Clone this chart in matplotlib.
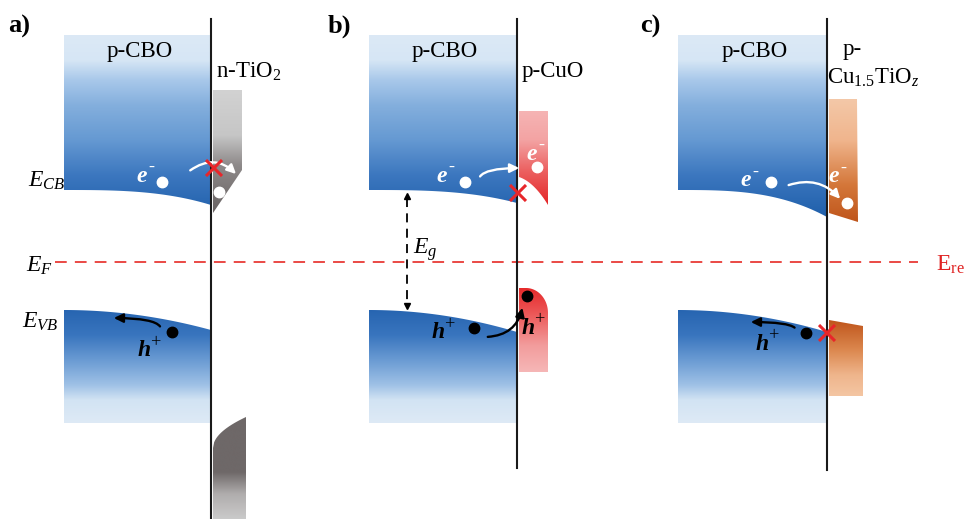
import numpy as np
import matplotlib
matplotlib.use('Agg')
import matplotlib.pyplot as plt
from matplotlib.patches import Polygon, FancyArrowPatch
from matplotlib.colors import to_rgb

plt.rcParams['font.family'] = 'Liberation Serif'
plt.rcParams['mathtext.fontset'] = 'custom'
plt.rcParams['mathtext.rm'] = 'Liberation Serif'
plt.rcParams['mathtext.it'] = 'Liberation Serif:italic'
plt.rcParams['mathtext.bf'] = 'Liberation Serif:bold'

# 三个异质结能带示意 (像素坐标, y 向下)
panel_tags = ['a)', 'b)', 'c)']
partner_names = ['n-TiO$_2$', 'p-CuO', 'Cu$_{1.5}$TiO$_z$']
x_left = [64, 369, 678]          # p-CBO 左边界
x_iface = [211, 517, 827]        # 界面
iface_end = [519, 468, 470]      # 界面线下端
cb_top, cb_edge = 35, 190        # p-CBO 导带
cb_bend = [15, 13, 27]           # 导带在界面处的弯曲
vb_edge, vb_bottom = 310, 423    # p-CBO 价带
vb_bend = [20, 22, 22]
ef_level = 262

blue_cb = [(35, '#dce9f6'), (60, '#d6e6f5'), (80, '#a8c8ea'), (105, '#84afdd'),
           (140, '#6599d2'), (175, '#3c77bf'), (215, '#2161ac')]
blue_vb = [(310, '#2765b1'), (335, '#3975be'), (360, '#6a9bd3'), (385, '#9fc1e6'),
           (400, '#d2e3f3'), (423, '#deeaf6')]


def grad_fill(ax, xs, ys, stops):
    poly = Polygon(np.column_stack([xs, ys]), closed=True, facecolor='none', edgecolor='none')
    ax.add_patch(poly)
    y0, y1 = min(ys), max(ys)
    yy = np.linspace(y0, y1, 300)
    sy = [s[0] for s in stops]
    cols = np.array([to_rgb(s[1]) for s in stops])
    img = np.stack([np.interp(yy, sy, cols[:, k]) for k in range(3)], axis=-1)[:, None, :]
    im = ax.imshow(img, extent=(min(xs), max(xs), y1, y0), aspect='auto',
                   interpolation='bilinear', origin='upper', zorder=1)
    im.set_clip_path(poly)


def charge(ax, x, y, letter, sign, color, size=17):
    ax.text(x, y, letter, color=color, fontsize=size, fontweight='bold',
            fontstyle='italic', ha='center', va='center', zorder=6)
    ax.annotate(sign, xy=(x, y), xytext=(size * 0.27, size * 0.36), textcoords='offset points',
                color=color, fontsize=size * 0.78, ha='left', va='center', zorder=6)


def curved(ax, p0, p1, style, color):
    a = FancyArrowPatch(p0, p1, connectionstyle=style,
                        arrowstyle='-|>,head_length=0.45,head_width=0.22',
                        mutation_scale=12, lw=1.7, color=color, zorder=6)
    ax.add_patch(a)


def cross(ax, x, y, s=8):
    ax.plot([x - s, x + s], [y - s, y + s], color='#e8262a', lw=2.2, zorder=7, solid_capstyle='butt')
    ax.plot([x - s, x + s], [y + s, y - s], color='#e8262a', lw=2.2, zorder=7, solid_capstyle='butt')


fig = plt.figure(figsize=(9.66, 5.19), dpi=100)
ax = fig.add_axes([0, 0, 1, 1])

for i in range(3):
    x0, xi = x_left[i], x_iface[i]
    t = np.linspace(0, 1, 80)
    xs = x0 + (xi - x0) * t
    # 导带
    cb_y = cb_edge + cb_bend[i] * t ** 3
    grad_fill(ax, np.r_[x0, xs, xi], np.r_[cb_top, cb_y, cb_top], blue_cb)
    # 价带
    vb_y = vb_edge + vb_bend[i] * t ** 2
    grad_fill(ax, np.r_[xs, xi, x0], np.r_[vb_y, vb_bottom, vb_bottom], blue_vb)
    ax.plot([xi, xi], [19, iface_end[i]], color='#1a1a1a', lw=1.5, zorder=5)
    ax.text(x0 + (xi - x0) / 2 + 2, 52, 'p-CBO', fontsize=16.5, ha='center', va='center', zorder=6)
    ax.text([8, 328, 640][i], 26, panel_tags[i], fontsize=19, fontweight='bold',
            ha='left', va='center', zorder=6)

# n-TiO2
gray_cb = [(90, '#d2d2d2'), (135, '#c6c6c6'), (165, '#8e8a8a'), (213, '#686262')]
gray_vb = [(417, '#6e6868'), (472, '#6e6868'), (494, '#b0adad'), (519, '#cacaca')]
s = np.linspace(0, 1, 30)
grad_fill(ax, [213, 242, 242, 213], [90, 90, 170, 213], gray_cb)
grad_fill(ax, np.r_[213 + 33 * s, 246, 213], np.r_[448 - 31 * np.sqrt(s), 519, 519], gray_vb)

# p-CuO
red_cb = [(111, '#f6b4b4'), (140, '#f3a3a3'), (170, '#ec6262'), (205, '#e42628')]
red_vb = [(288, '#e62a2b'), (315, '#ec5a5a'), (345, '#f29c9c'), (372, '#f6b7b7')]
q = np.linspace(0, 1, 30)
arc_x = (1 - q) ** 2 * 519 + 2 * (1 - q) * q * 534 + q ** 2 * 548
arc_y = (1 - q) ** 2 * 177 + 2 * (1 - q) * q * 182 + q ** 2 * 205
grad_fill(ax, np.r_[519, 548, arc_x[::-1]], np.r_[111, 111, arc_y[::-1]], red_cb)
ang = np.linspace(np.pi / 2, 0, 30)
grad_fill(ax, np.r_[519, 526 + 22 * np.cos(ang), 548, 519],
          np.r_[288, 313 - 25 * np.sin(ang), 372, 372], red_vb)

# p-Cu1.5TiOz
org_cb = [(99, '#f4c8a8'), (140, '#f0b58d'), (185, '#d4773a'), (222, '#bf551b')]
org_vb = [(320, '#bf551b'), (350, '#dc884f'), (375, '#efb58c'), (396, '#f4c6a3')]
grad_fill(ax, [829, 857, 858, 829], [99, 99, 222, 213], org_cb)
grad_fill(ax, [829, 863, 863, 829], [320, 326, 396, 396], org_vb)

# 费米能级
ax.plot([55, 918], [ef_level, ef_level], color='#e83a36', lw=1.3, dashes=(6.5, 4.5), zorder=4)

# 带隙
ax.plot([407, 407], [198, 303], color='black', lw=1.3, dashes=(5, 3.5), zorder=4)
ax.plot([407], [196], marker='^', color='black', ms=5, zorder=4)
ax.plot([407], [306], marker='v', color='black', ms=5, zorder=4)
ax.text(413, 250, '$E_g$', fontsize=17, ha='left', va='center')

# 能级标注
ax.text(28, 181, '$E_{CB}$', fontsize=17, ha='left', va='center')
ax.text(26, 266, '$E_F$', fontsize=17, ha='left', va='center')
ax.text(22, 322, '$E_{VB}$', fontsize=17, ha='left', va='center')
ax.text(936, 265, r'E$_{\mathrm{re}}$', fontsize=17, color='#e02424', ha='left', va='center')

ax.text(216, 72, partner_names[0], fontsize=16.5, ha='left', va='center')
ax.text(522, 71, partner_names[1], fontsize=16.5, ha='left', va='center')
ax.text(852, 50, 'p-', fontsize=16.5, ha='center', va='center')
ax.text(827, 78, partner_names[2], fontsize=16.5, ha='left', va='center')

dot = dict(marker='o', ms=7.5, ls='none', zorder=6)

# a) 电子受阻, 空穴回流
charge(ax, 142, 176, 'e', '-', 'white')
ax.plot([162], [182], color='white', **dot)
curved(ax, (188, 172), (238, 176), 'arc3,rad=-0.45', 'white')
cross(ax, 214, 168)
ax.plot([219], [192], color='white', **dot)
ax.plot([172], [332], color='black', **dot)
curved(ax, (161, 329), (111, 318), 'angle3,angleA=95,angleB=0', 'black')
charge(ax, 144, 351, 'h', '+', 'black')

# b)
charge(ax, 442, 176, 'e', '-', 'white')
ax.plot([465], [182], color='white', **dot)
curved(ax, (479, 179), (522, 168), 'angle3,angleA=80,angleB=0', 'white')
charge(ax, 532, 154, 'e', '-', 'white')
ax.plot([537], [167], color='white', **dot)
cross(ax, 518, 193)
ax.plot([474], [328], color='black', **dot)
charge(ax, 438, 333, 'h', '+', 'black')
curved(ax, (485, 337), (523, 305), 'arc3,rad=0.4', 'black')
ax.plot([527], [296], color='black', **dot)
charge(ax, 528, 328, 'h', '+', 'black')

# c)
charge(ax, 746, 181, 'e', '-', 'white')
ax.plot([771], [182], color='white', **dot)
curved(ax, (786, 186), (842, 201), 'arc3,rad=-0.35', 'white')
charge(ax, 834, 177, 'e', '-', 'white')
ax.plot([847], [203], color='white', **dot)
ax.plot([806], [333], color='black', **dot)
curved(ax, (796, 330), (748, 322), 'angle3,angleA=95,angleB=0', 'black')
charge(ax, 762, 344, 'h', '+', 'black')
cross(ax, 827, 333)

ax.set_xlim(0, 966)
ax.set_ylim(519, 0)
ax.axis('off')
fig.savefig('out.png', dpi=100)
